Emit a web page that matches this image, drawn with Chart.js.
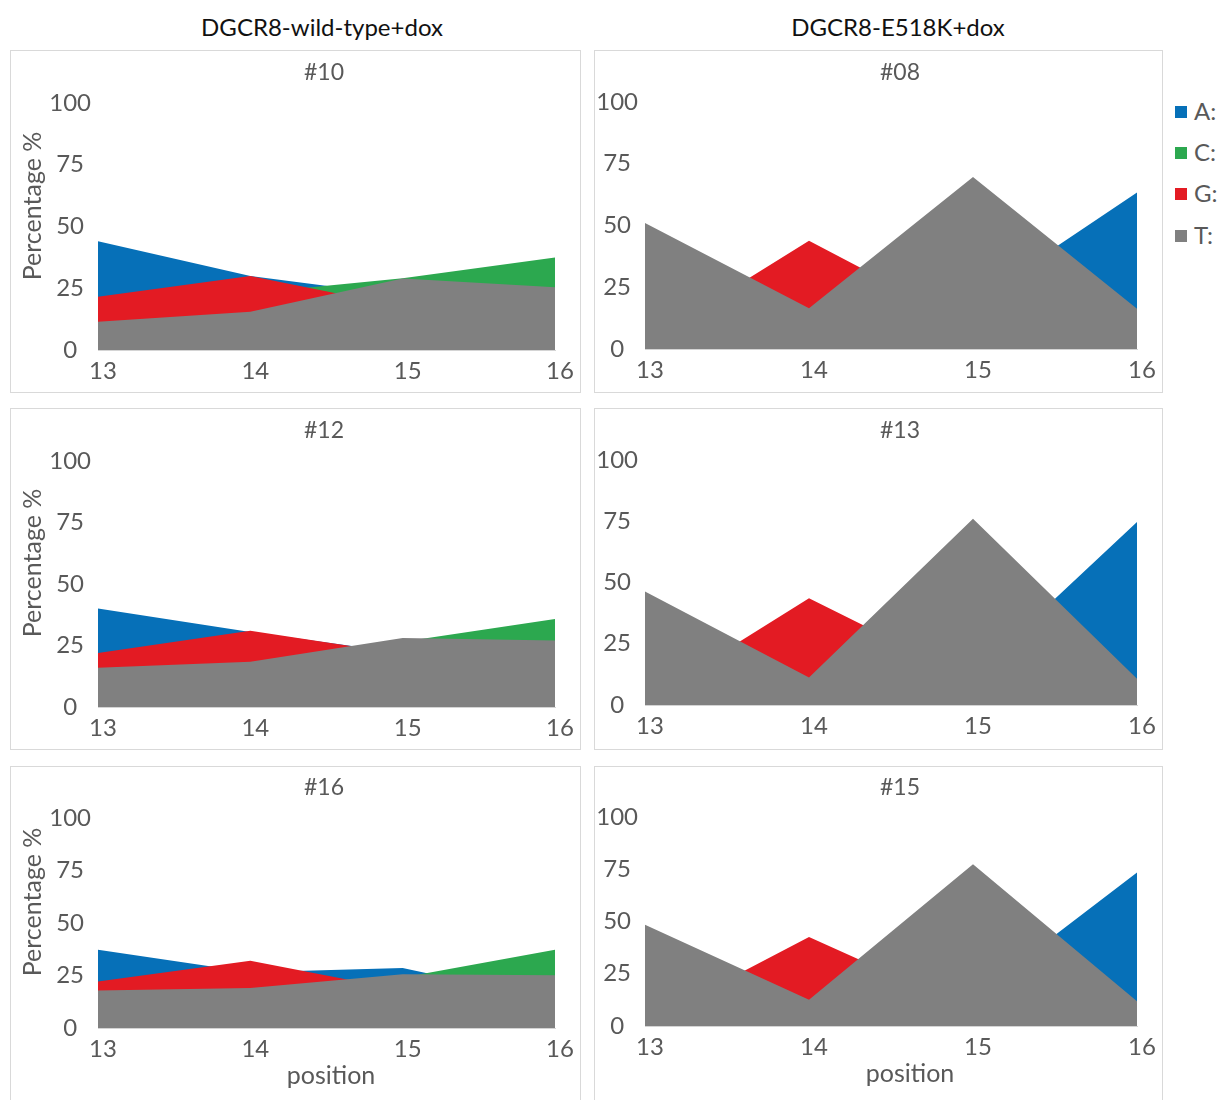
<!DOCTYPE html>
<html>
<head>
<meta charset="utf-8">
<script src="https://cdn.jsdelivr.net/npm/chart.js@4.4.0/dist/chart.umd.min.js"></script>
<style>
  html, body { margin: 0; padding: 0; background: #fff; }
  body { position: relative; width: 1220px; height: 1100px; overflow: hidden; font-family: Lato, "Open Sans", sans-serif; }
  canvas { position: absolute; }
  .hdr { position: absolute; top: 13px; font-size: 24px; color: #111; white-space: nowrap; transform: translateX(-50%); line-height: 28px; }
  .legend { position: absolute; left: 1175px; top: 0; }
  .legend .item { position: absolute; left: 0; height: 28px; line-height: 28px; font-size: 24px; color: #595959; white-space: nowrap; }
  .legend .sw { display: inline-block; width: 12px; height: 12px; margin-right: 7px; vertical-align: middle; position: relative; top: -2px; }
</style>
</head>
<body>
<div class="hdr" style="left:322px">DGCR8-wild-type+dox</div>
<div class="hdr" style="left:898px">DGCR8-E518K+dox</div>
<div class="legend" id="legend"></div>

<script>
// x categories (nucleotide position) and y tick values
const positions = ['13', '14', '15', '16'];
const yTicks = [0, 25, 50, 75, 100];

// base composition (%) per position, wild-type clones
const a10 = [44, 30, 22, 20];
const c10 = [21, 23, 29, 37.5];
const g10 = [21.6, 30, 17.5, 17];
const t10 = [11.4, 15.5, 28.9, 25.4];

const a12 = [40, 30.5, 22, 18];
const c12 = [20, 20, 26.5, 35.8];
const g12 = [22, 31, 21.5, 18];
const t12 = [16, 18.4, 28, 27];

const a16 = [37.3, 26.5, 28.6, 13];
const c16 = [20, 20, 24, 37.3];
const g16 = [22.2, 32, 18, 22];
const t16 = [17.8, 19, 25.6, 25.1];

// base composition (%) per position, E518K clones
const a08 = [23, 20, 18.8, 63.4];
const c08 = [23, 20, 2.6, 10];
const g08 = [2.5, 43.8, 9, 10];
const t08 = [51, 16.5, 69.6, 16.3];

const a13 = [27, 22, 12, 74.7];
const c13 = [25, 23, 1.7, 7];
const g13 = [1.7, 43.6, 10.3, 7];
const t13 = [46.3, 11.2, 76, 10.7];

const a15 = [26, 22, 13.5, 73.4];
const c15 = [24, 22, 1.8, 7];
const g15 = [1.5, 42.6, 7.3, 7];
const t15 = [48.5, 12.6, 77.4, 11.8];

const bases = ['A:', 'C:', 'G:', 'T:'];
const baseColors = ['#0670b8', '#2ca84f', '#e31b23', '#808080'];

const textColor = '#595959';
const fontFamily = 'Lato, "Open Sans", sans-serif';

// panel frames (page px) and plot-area edges
const panels = [
  { title: '#10', series: [a10, c10, g10, t10], box: [10, 50, 571, 343],  plot: [98, 555, 103, 350],  tx: 324, ty: 72,  yt: [33, 206] },
  { title: '#08', series: [a08, c08, g08, t08], box: [594, 50, 569, 343], plot: [645, 1137, 102, 349], tx: 900, ty: 72 },
  { title: '#12', series: [a12, c12, g12, t12], box: [10, 408, 571, 342], plot: [98, 555, 461, 707],  tx: 324, ty: 430, yt: [33, 563] },
  { title: '#13', series: [a13, c13, g13, t13], box: [594, 408, 569, 342], plot: [645, 1137, 460, 705], tx: 900, ty: 430 },
  { title: '#16', series: [a16, c16, g16, t16], box: [10, 766, 571, 342], plot: [98, 555, 818, 1028], tx: 324, ty: 787, yt: [33, 902], xt: [331, 1076] },
  { title: '#15', series: [a15, c15, g15, t15], box: [594, 766, 569, 342], plot: [645, 1137, 817, 1026], tx: 900, ty: 787, xt: [910, 1074] }
];

// frame + panel title + axis captions
const captions = {
  id: 'captions',
  afterDraw(chart, args, opts) {
    const ctx = chart.ctx;
    ctx.save();
    ctx.strokeStyle = '#d9d9d9';
    ctx.lineWidth = 1;
    ctx.strokeRect(0.5, 0.5, chart.width - 1, chart.height - 1);
    ctx.fillStyle = textColor;
    ctx.textAlign = 'center';
    ctx.textBaseline = 'middle';
    for (const it of opts.items) {
      ctx.save();
      ctx.font = it.size + 'px ' + fontFamily;
      ctx.translate(it.x, it.y);
      if (it.rot) ctx.rotate(it.rot);
      ctx.fillText(it.text, 0, 0);
      ctx.restore();
    }
    ctx.restore();
  }
};

panels.forEach(p => {
  const [bx, by, bw, bh] = p.box;
  const [pl, pr, pt, pb] = p.plot;
  const cv = document.createElement('canvas');
  cv.width = bw; cv.height = bh;
  cv.style.left = bx + 'px'; cv.style.top = by + 'px';
  cv.style.width = bw + 'px'; cv.style.height = bh + 'px';
  document.body.appendChild(cv);

  const items = [{ text: p.title, x: p.tx - bx, y: p.ty - by + 1, size: 23 }];
  if (p.yt) items.push({ text: 'Percentage %', x: p.yt[0] - bx, y: p.yt[1] - by, size: 25, rot: -Math.PI / 2 });
  if (p.xt) items.push({ text: 'position', x: p.xt[0] - bx, y: p.xt[1] - by, size: 25 });

  new Chart(cv, {
    type: 'line',
    data: {
      labels: positions,
      datasets: bases.map((b, i) => ({
        label: b,
        data: p.series[i],
        fill: 'origin',
        backgroundColor: baseColors[i],
        borderColor: baseColors[i],
        borderWidth: 0,
        pointRadius: 0,
        tension: 0,
        order: 3 - i
      }))
    },
    options: {
      responsive: false,
      animation: false,
      events: [],
      devicePixelRatio: 1,
      layout: { padding: { left: 0, top: pt - by, right: (bx + bw) - pr, bottom: 0 } },
      plugins: {
        legend: { display: false },
        title: { display: false },
        tooltip: { enabled: false },
        captions: { items }
      },
      scales: {
        x: {
          type: 'category',
          offset: false,
          grid: { display: false, drawTicks: false },
          border: { display: true, color: '#d4d4d4', width: 1, z: 1 },
          ticks: { color: textColor, font: { family: fontFamily, size: 24 }, padding: 7, labelOffset: 5, maxRotation: 0, autoSkip: false },
          afterFit: s => { s.height = (by + bh) - pb; }
        },
        y: {
          min: 0,
          max: 100,
          grid: { display: false, drawTicks: false },
          border: { display: false },
          ticks: { color: textColor, font: { family: fontFamily, size: 24 }, padding: 7, crossAlign: 'center' },
          afterBuildTicks: s => { s.ticks = yTicks.map(v => ({ value: v })); },
          afterFit: s => { s.width = pl - bx; }
        }
      }
    },
    plugins: [captions]
  });
});

// shared legend
const legendTops = [111, 152, 193, 235];
const lg = document.getElementById('legend');
bases.forEach((b, i) => {
  const d = document.createElement('div');
  d.className = 'item';
  d.style.top = (legendTops[i] - 14) + 'px';
  d.innerHTML = '<span class="sw" style="background:' + baseColors[i] + '"></span>' + b;
  lg.appendChild(d);
});
</script>
</body>
</html>
